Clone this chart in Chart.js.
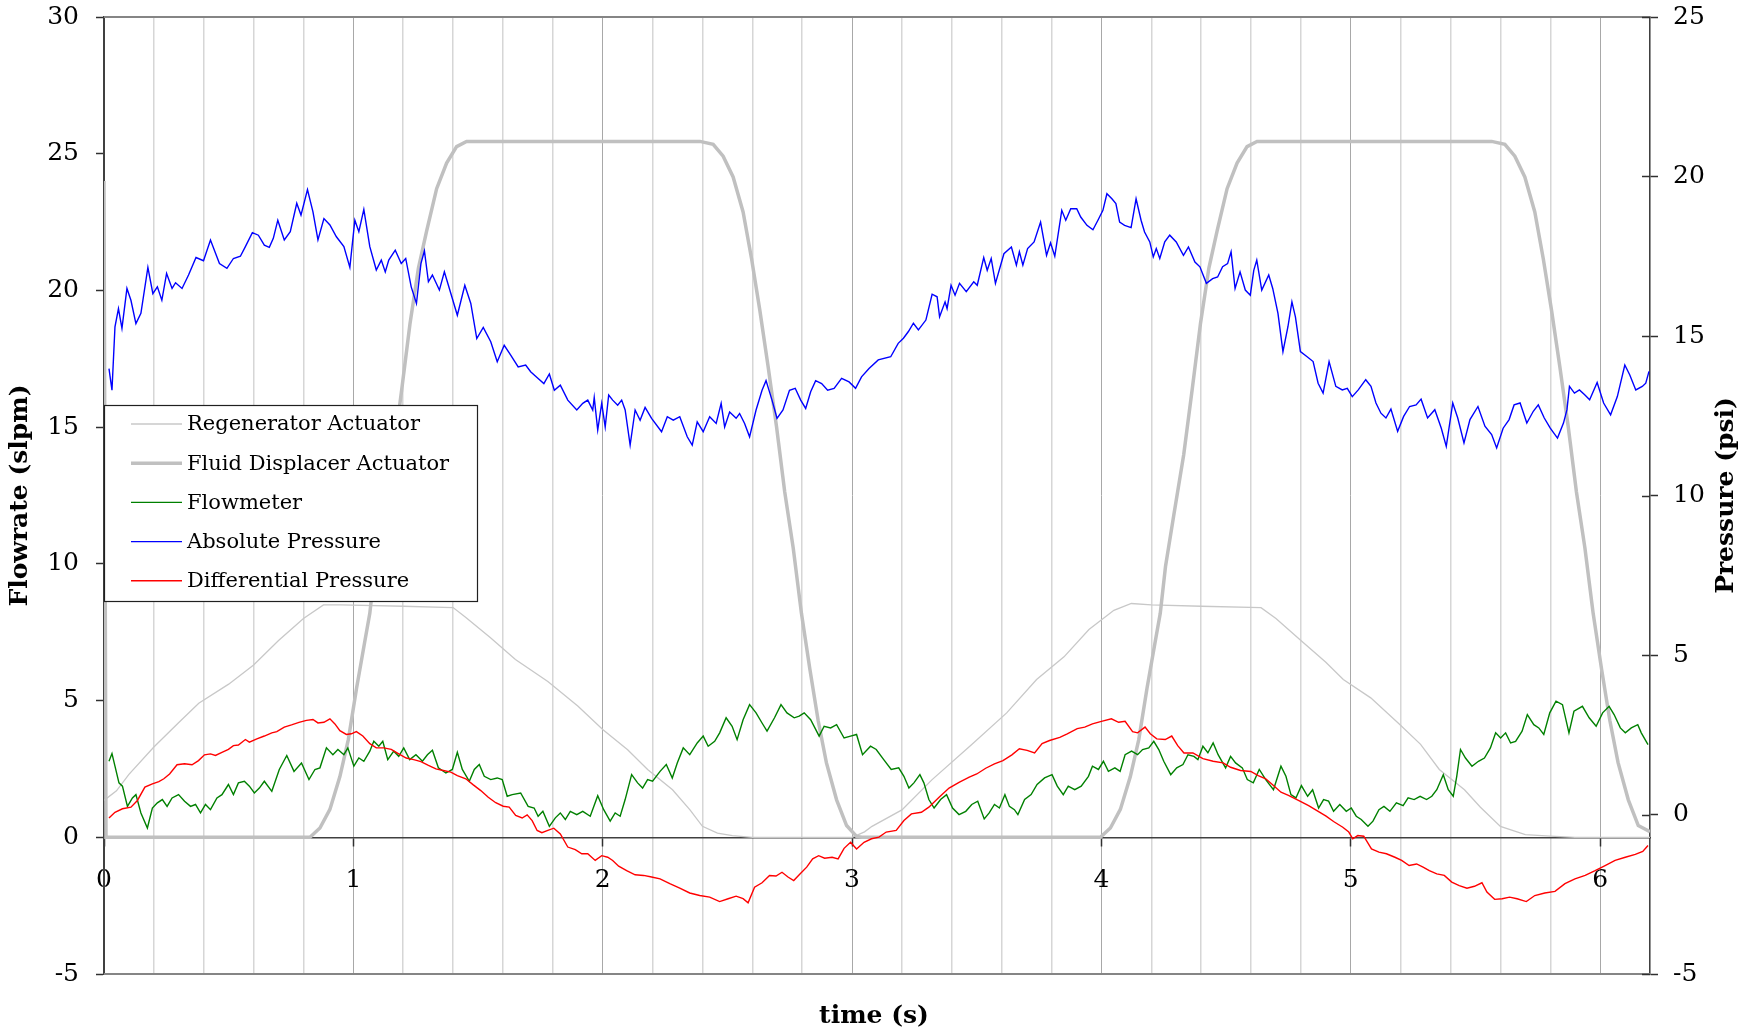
<!DOCTYPE html>
<html><head><meta charset="utf-8">
<script src="https://cdn.jsdelivr.net/npm/chart.js@4.4.1/dist/chart.umd.min.js"></script>
<style>html,body{margin:0;padding:0;background:#fff;}canvas{display:block;}</style>
</head><body>
<canvas id="c" width="1748" height="1031"></canvas>
<script>
// ---------- DATA ----------
const seriesLabels = ['Regenerator Actuator','Fluid Displacer Actuator','Flowmeter','Absolute Pressure','Differential Pressure'];
const xTickLabels = ['0','1','2','3','4','5','6'];
const leftTicks = [-5,0,5,10,15,20,25,30];
const rightTicks = [-5,0,5,10,15,20,25];

const regenT = [0,0.05,0.1,0.2,0.3,0.38,0.5,0.6,0.7,0.8,0.88,0.95,1.2,1.4,1.45,1.55,1.65,1.78,1.9,2.0,2.1,2.18,2.28,2.35,2.40,2.46,2.52,2.6,3.0,3.05,3.08,3.2,3.32,3.48,3.62,3.74,3.85,3.95,4.05,4.12,4.2,4.4,4.64,4.7,4.8,4.9,4.97,5.08,5.19,5.28,5.355,5.456,5.52,5.6,5.7,5.8,5.9,6.2];
const regenV = [1.35,1.7,2.3,3.3,4.2,4.9,5.6,6.3,7.2,8.0,8.5,8.5,8.45,8.4,8.05,7.3,6.5,5.7,4.8,3.94,3.2,2.48,1.74,1.0,0.40,0.15,0.06,0,0,0.2,0.4,1.0,2.1,3.39,4.55,5.77,6.6,7.6,8.3,8.55,8.5,8.45,8.4,8.0,7.2,6.4,5.77,5.1,4.18,3.4,2.48,1.74,1.1,0.40,0.1,0.04,0,0];

const dispT = [0,0.008,0.826,0.866,0.906,0.946,0.980,1.013,1.046,1.066,1.087,1.120,1.160,1.194,1.227,1.261,1.294,1.334,1.374,1.414,1.454,2.390,2.443,2.483,2.523,2.563,2.597,2.630,2.663,2.697,2.730,2.764,2.797,2.831,2.864,2.897,2.938,2.978,3.018,3.04,3.996,4.036,4.076,4.116,4.150,4.183,4.216,4.236,4.257,4.290,4.330,4.364,4.397,4.431,4.464,4.504,4.544,4.584,4.624,5.565,5.618,5.658,5.698,5.738,5.772,5.805,5.838,5.872,5.905,5.939,5.972,6.006,6.039,6.072,6.113,6.153,6.2];
const dispV = [24.0,0,0,0.34,1.02,2.22,3.58,5.46,7.17,8.19,9.90,11.77,13.99,16.38,18.77,20.82,22.18,23.72,24.66,25.26,25.45,25.45,25.34,24.91,24.15,22.87,21.16,19.28,17.24,15.02,12.63,10.58,8.19,6.14,4.27,2.73,1.37,0.43,0.03,0,0,0.34,1.02,2.22,3.58,5.46,7.17,8.19,9.90,11.77,13.99,16.38,18.77,20.82,22.18,23.72,24.66,25.26,25.45,25.45,25.34,24.91,24.15,22.87,21.16,19.28,17.24,15.02,12.63,10.58,8.19,6.14,4.27,2.73,1.37,0.43,0.2];

const flowT = [0.020,0.032,0.044,0.060,0.074,0.094,0.114,0.128,0.148,0.174,0.194,0.214,0.234,0.253,0.273,0.299,0.323,0.347,0.367,0.387,0.407,0.427,0.453,0.473,0.499,0.519,0.539,0.563,0.583,0.603,0.623,0.643,0.673,0.703,0.733,0.762,0.792,0.822,0.846,0.866,0.892,0.918,0.938,0.962,0.978,1.002,1.022,1.042,1.066,1.082,1.102,1.118,1.138,1.162,1.182,1.202,1.226,1.251,1.277,1.297,1.317,1.341,1.371,1.397,1.417,1.437,1.465,1.485,1.505,1.525,1.551,1.577,1.597,1.617,1.637,1.671,1.701,1.725,1.741,1.760,1.786,1.810,1.830,1.850,1.870,1.896,1.920,1.950,1.980,2.004,2.030,2.050,2.070,2.090,2.116,2.140,2.160,2.180,2.200,2.230,2.255,2.279,2.299,2.323,2.349,2.379,2.403,2.423,2.449,2.469,2.495,2.519,2.539,2.563,2.589,2.615,2.639,2.659,2.689,2.715,2.739,2.768,2.788,2.808,2.834,2.868,2.888,2.914,2.938,2.968,2.994,3.018,3.042,3.074,3.097,3.127,3.157,3.187,3.208,3.228,3.248,3.272,3.288,3.308,3.329,3.355,3.379,3.403,3.429,3.456,3.480,3.504,3.530,3.550,3.571,3.591,3.613,3.631,3.651,3.665,3.692,3.718,3.742,3.772,3.802,3.823,3.847,3.867,3.893,3.919,3.948,3.964,3.988,4.008,4.028,4.054,4.075,4.095,4.121,4.145,4.165,4.190,4.210,4.230,4.250,4.278,4.302,4.327,4.347,4.371,4.387,4.407,4.427,4.448,4.468,4.498,4.518,4.538,4.565,4.585,4.609,4.633,4.659,4.690,4.720,4.740,4.760,4.780,4.802,4.827,4.847,4.871,4.891,4.911,4.931,4.956,4.982,5.002,5.022,5.042,5.069,5.089,5.113,5.133,5.157,5.183,5.210,5.230,5.254,5.278,5.304,5.325,5.345,5.371,5.391,5.411,5.425,5.440,5.460,5.486,5.512,5.536,5.560,5.581,5.601,5.621,5.641,5.661,5.687,5.708,5.734,5.754,5.774,5.798,5.823,5.849,5.875,5.895,5.929,5.956,5.984,6.010,6.036,6.056,6.081,6.101,6.125,6.151,6.165,6.192];
const flowV = [2.78,3.06,2.60,1.99,1.87,1.13,1.44,1.56,0.89,0.34,1.07,1.26,1.38,1.13,1.44,1.56,1.32,1.13,1.20,0.89,1.20,1.01,1.44,1.56,1.93,1.56,1.99,2.05,1.87,1.62,1.80,2.05,1.68,2.48,2.99,2.41,2.72,2.11,2.48,2.54,3.27,3.02,3.21,3.02,3.27,2.60,2.90,2.78,3.15,3.51,3.33,3.51,2.84,3.15,2.96,3.27,2.84,3.02,2.78,3.02,3.18,2.54,2.35,2.48,3.11,2.48,2.05,2.48,2.66,2.23,2.11,2.17,2.11,1.50,1.56,1.62,1.13,1.07,0.77,0.95,0.40,0.71,0.89,0.65,0.95,0.83,0.95,0.77,1.52,1.01,0.59,0.89,0.77,1.38,2.29,1.99,1.80,2.11,2.05,2.41,2.66,2.17,2.72,3.27,3.02,3.45,3.70,3.33,3.51,3.82,4.37,4.06,3.57,4.30,4.85,4.55,4.18,3.88,4.37,4.85,4.55,4.37,4.43,4.55,4.30,3.70,4.06,4.00,4.12,3.63,3.70,3.76,3.02,3.33,3.21,2.84,2.48,2.54,2.23,1.80,1.99,2.29,1.99,1.38,1.07,1.38,1.56,1.07,0.83,0.95,1.20,1.32,0.67,0.89,1.20,1.07,1.56,1.13,1.01,0.83,1.38,1.56,1.93,2.17,2.29,1.87,1.56,1.87,1.74,1.87,2.23,2.60,2.48,2.78,2.41,2.54,2.41,3.02,3.15,3.02,3.21,3.27,3.51,3.21,2.78,2.29,2.54,2.66,3.02,2.96,2.84,3.33,3.09,3.45,3.02,2.54,2.96,2.72,2.54,2.11,1.99,2.48,2.11,1.74,2.60,2.23,1.56,1.44,1.89,1.50,1.74,1.07,1.38,1.32,0.95,1.20,0.95,1.07,0.77,0.65,0.40,0.59,1.01,1.13,0.95,1.26,1.16,1.44,1.38,1.50,1.38,1.50,1.74,2.29,1.74,1.50,2.23,3.21,2.90,2.60,2.78,2.90,3.27,3.82,3.63,3.82,3.45,3.51,3.88,4.49,4.12,4.00,3.76,4.55,4.98,4.85,3.82,4.61,4.79,4.37,4.06,4.55,4.79,4.49,4.00,3.82,4.00,4.12,3.82,3.39];

const absT = [0.020,0.032,0.044,0.058,0.072,0.092,0.108,0.128,0.148,0.176,0.196,0.214,0.232,0.251,0.273,0.287,0.313,0.339,0.369,0.399,0.427,0.463,0.493,0.519,0.547,0.567,0.595,0.619,0.643,0.663,0.679,0.697,0.723,0.747,0.773,0.790,0.816,0.838,0.858,0.882,0.906,0.932,0.962,0.986,1.006,1.022,1.042,1.066,1.092,1.112,1.128,1.142,1.168,1.192,1.210,1.232,1.253,1.271,1.285,1.301,1.317,1.345,1.365,1.385,1.417,1.447,1.471,1.495,1.521,1.551,1.577,1.605,1.631,1.661,1.691,1.711,1.741,1.764,1.786,1.806,1.830,1.860,1.896,1.920,1.940,1.960,1.966,1.980,1.996,2.010,2.024,2.040,2.060,2.076,2.090,2.110,2.130,2.150,2.170,2.196,2.236,2.259,2.283,2.309,2.339,2.359,2.379,2.403,2.429,2.455,2.475,2.489,2.509,2.535,2.549,2.569,2.589,2.615,2.639,2.655,2.679,2.699,2.723,2.749,2.772,2.794,2.814,2.834,2.854,2.878,2.902,2.928,2.958,2.988,3.014,3.038,3.068,3.105,3.155,3.185,3.206,3.226,3.246,3.266,3.296,3.321,3.341,3.351,3.373,3.381,3.397,3.413,3.431,3.458,3.488,3.502,3.528,3.542,3.558,3.575,3.609,3.639,3.659,3.671,3.685,3.704,3.730,3.756,3.780,3.796,3.813,3.841,3.857,3.877,3.901,3.917,3.942,3.966,3.986,4.006,4.022,4.042,4.058,4.073,4.093,4.119,4.139,4.159,4.173,4.194,4.208,4.220,4.234,4.254,4.274,4.300,4.329,4.349,4.375,4.395,4.421,4.446,4.466,4.486,4.506,4.520,4.536,4.556,4.577,4.597,4.611,4.623,4.643,4.671,4.687,4.708,4.728,4.748,4.764,4.778,4.798,4.825,4.849,4.869,4.889,4.913,4.940,4.966,4.986,5.006,5.030,5.060,5.081,5.101,5.121,5.141,5.161,5.188,5.212,5.236,5.262,5.282,5.308,5.337,5.363,5.383,5.409,5.429,5.454,5.478,5.510,5.538,5.565,5.585,5.611,5.635,5.655,5.679,5.706,5.732,5.752,5.776,5.800,5.829,5.853,5.867,5.877,5.897,5.917,5.938,5.958,5.988,6.014,6.042,6.069,6.099,6.119,6.143,6.169,6.183,6.196];
const absV = [13.98,13.30,15.29,15.86,15.24,16.49,16.12,15.39,15.71,17.15,16.33,16.54,16.12,16.96,16.49,16.67,16.49,16.91,17.46,17.36,18.01,17.27,17.12,17.43,17.50,17.80,18.24,18.16,17.85,17.78,18.06,18.63,18.01,18.27,19.16,18.79,19.59,18.89,18.01,18.68,18.48,18.11,17.80,17.15,18.63,18.27,18.97,17.80,17.07,17.38,17.01,17.38,17.69,17.27,17.43,16.54,16.02,17.27,17.67,16.70,16.91,16.44,17.01,16.49,15.65,16.59,16.02,14.92,15.27,14.82,14.19,14.71,14.40,14.03,14.09,13.88,13.67,13.51,13.81,13.30,13.46,12.99,12.68,12.89,12.99,12.68,13.07,12.05,12.89,12.15,13.15,12.99,12.83,12.99,12.68,11.58,12.68,12.36,12.76,12.42,12.00,12.47,12.36,12.47,11.84,11.58,12.31,12.00,12.47,12.26,12.89,12.15,12.62,12.42,12.57,12.26,11.84,12.68,13.30,13.60,12.99,12.42,12.68,13.30,13.36,12.99,12.73,13.25,13.60,13.51,13.30,13.36,13.67,13.56,13.36,13.72,13.98,14.25,14.35,14.77,14.93,15.14,15.40,15.19,15.50,16.31,16.23,15.60,16.07,15.86,16.59,16.28,16.65,16.39,16.70,16.59,17.46,17.06,17.43,16.65,17.58,17.79,17.22,17.64,17.22,17.74,17.95,18.57,17.53,17.92,17.50,18.94,18.63,18.99,18.99,18.73,18.47,18.33,18.63,18.94,19.46,19.30,19.15,18.57,18.47,18.40,19.30,18.63,18.26,17.95,17.48,17.74,17.43,17.95,18.16,17.95,17.53,17.79,17.32,17.17,16.65,16.80,16.85,17.17,17.27,17.64,16.49,17.01,16.44,16.28,17.06,17.38,16.44,16.91,16.49,15.71,14.51,15.29,16.07,15.60,14.51,14.35,14.20,13.52,13.21,14.20,13.42,13.31,13.36,13.10,13.31,13.63,13.42,12.90,12.58,12.43,12.71,12.01,12.48,12.79,12.84,13.02,12.43,12.69,12.11,11.54,12.90,12.43,11.65,12.38,12.79,12.17,11.91,11.49,12.11,12.38,12.84,12.90,12.27,12.64,12.84,12.43,12.11,11.80,12.27,12.69,13.42,13.21,13.31,13.16,13.00,13.54,12.90,12.53,13.10,14.09,13.78,13.31,13.42,13.52,13.89];

const diffT = [0.020,0.044,0.074,0.108,0.134,0.164,0.194,0.220,0.240,0.263,0.293,0.323,0.353,0.379,0.403,0.427,0.447,0.473,0.499,0.519,0.539,0.567,0.583,0.613,0.643,0.673,0.693,0.723,0.752,0.782,0.812,0.838,0.858,0.882,0.906,0.926,0.946,0.972,0.992,1.012,1.038,1.066,1.092,1.122,1.152,1.182,1.212,1.242,1.271,1.301,1.331,1.361,1.391,1.417,1.451,1.481,1.511,1.541,1.571,1.601,1.625,1.651,1.677,1.697,1.717,1.737,1.756,1.780,1.804,1.830,1.860,1.890,1.916,1.940,1.970,1.996,2.020,2.040,2.064,2.096,2.130,2.164,2.196,2.230,2.269,2.309,2.349,2.389,2.429,2.469,2.503,2.535,2.563,2.583,2.609,2.639,2.669,2.695,2.719,2.743,2.766,2.792,2.818,2.842,2.866,2.890,2.920,2.944,2.968,2.994,3.018,3.048,3.078,3.108,3.137,3.177,3.208,3.238,3.278,3.308,3.349,3.389,3.429,3.470,3.500,3.536,3.571,3.605,3.641,3.671,3.702,3.732,3.762,3.792,3.833,3.863,3.903,3.933,3.964,4.000,4.040,4.069,4.095,4.125,4.145,4.175,4.196,4.222,4.256,4.282,4.306,4.331,4.367,4.407,4.448,4.488,4.518,4.558,4.599,4.629,4.659,4.690,4.720,4.750,4.790,4.831,4.871,4.901,4.931,4.968,4.992,5.008,5.028,5.052,5.083,5.113,5.143,5.177,5.204,5.234,5.264,5.290,5.315,5.345,5.375,5.405,5.435,5.466,5.496,5.526,5.546,5.577,5.607,5.637,5.667,5.704,5.738,5.778,5.819,5.859,5.899,5.940,5.980,6.020,6.060,6.101,6.141,6.171,6.192];
const diffV = [-0.11,0.07,0.18,0.23,0.44,0.86,0.96,1.03,1.12,1.27,1.56,1.59,1.56,1.69,1.87,1.90,1.85,1.95,2.04,2.16,2.18,2.35,2.27,2.37,2.46,2.56,2.60,2.74,2.81,2.89,2.95,2.98,2.87,2.89,3.00,2.84,2.63,2.51,2.53,2.60,2.46,2.22,2.09,2.09,2.04,1.90,1.77,1.72,1.66,1.54,1.43,1.38,1.33,1.22,1.12,0.93,0.75,0.54,0.37,0.26,0.23,-0.03,-0.11,-0.01,-0.19,-0.50,-0.57,-0.50,-0.43,-0.61,-1.02,-1.10,-1.23,-1.23,-1.44,-1.29,-1.34,-1.44,-1.62,-1.76,-1.89,-1.91,-1.96,-2.02,-2.17,-2.31,-2.46,-2.54,-2.59,-2.73,-2.64,-2.56,-2.64,-2.77,-2.28,-2.14,-1.91,-1.93,-1.81,-1.96,-2.07,-1.86,-1.65,-1.39,-1.29,-1.37,-1.34,-1.39,-1.06,-0.87,-1.08,-0.87,-0.76,-0.71,-0.55,-0.50,-0.19,0.02,0.07,0.23,0.54,0.83,1.01,1.17,1.27,1.45,1.59,1.69,1.87,2.06,2.01,1.93,2.22,2.32,2.42,2.53,2.69,2.74,2.84,2.92,3.00,2.89,2.92,2.60,2.56,2.74,2.53,2.37,2.35,2.46,2.16,1.93,1.93,1.75,1.67,1.62,1.48,1.38,1.35,1.22,1.12,0.91,0.70,0.60,0.44,0.28,0.09,-0.05,-0.22,-0.40,-0.55,-0.76,-0.66,-0.68,-1.08,-1.18,-1.23,-1.34,-1.44,-1.60,-1.55,-1.65,-1.76,-1.86,-1.91,-2.12,-2.23,-2.31,-2.25,-2.14,-2.43,-2.66,-2.64,-2.59,-2.64,-2.73,-2.54,-2.46,-2.41,-2.17,-2.02,-1.91,-1.76,-1.60,-1.44,-1.34,-1.25,-1.16,-0.97];

// ---------- CHART ----------
const FONT = 'DejaVu Serif';
const pts = (T, V) => T.map((t, i) => ({x: t, y: V[i]}));
const isInt = v => Math.abs(v - Math.round(v)) < 1e-6;

const seriesStyle = [
  {color:'#c8c8c8', width:1.3, axis:'y'},
  {color:'#c0c0c0', width:3.5, axis:'y'},
  {color:'#008000', width:1.4, axis:'y'},
  {color:'#0000ff', width:1.4, axis:'y2'},
  {color:'#ff0000', width:1.4, axis:'y2'}
];
const seriesData = [pts(regenT, regenV), pts(dispT, dispV), pts(flowT, flowV), pts(absT, absV), pts(diffT, diffV)];

const framePlugin = {
  id: 'frame',
  afterDraw(chart) {
    const {ctx, chartArea: a, scales} = chart;
    ctx.save();
    ctx.strokeStyle = '#858585'; ctx.lineWidth = 2;
    ctx.beginPath();
    ctx.moveTo(a.left, a.top); ctx.lineTo(a.right, a.top);
    ctx.moveTo(a.left, a.bottom); ctx.lineTo(a.right, a.bottom);
    ctx.stroke();
    ctx.strokeStyle = '#303030'; ctx.lineWidth = 1.5;
    scales.y2.ticks.forEach(t => {
      const py = Math.round(scales.y2.getPixelForValue(t.value)) + 0.5;
      ctx.beginPath(); ctx.moveTo(a.right - 8, py); ctx.lineTo(a.right, py); ctx.stroke();
    });
    ctx.fillStyle = '#000';
    ctx.font = 'bold 25px "' + FONT + '"';
    ctx.textAlign = 'center'; ctx.textBaseline = 'middle';
    ctx.translate(chart.width - 22, (a.top + a.bottom) / 2);
    ctx.rotate(-Math.PI / 2);
    ctx.fillText('Pressure (psi)', 0, 0);
    ctx.restore();

    ctx.save();
    const lx = a.left, ly = a.top + 388, lw = 373, lh = 196;
    ctx.fillStyle = '#fff';
    ctx.fillRect(lx, ly, lw, lh);
    ctx.strokeStyle = '#202020'; ctx.lineWidth = 1.2;
    ctx.strokeRect(lx + 0.5, ly + 0.5, lw, lh);
    ctx.font = '21px "' + FONT + '"';
    ctx.textAlign = 'left'; ctx.textBaseline = 'middle';
    chart.data.datasets.forEach((ds, i) => {
      const cy = ly + 19 + i * 39.2;
      ctx.strokeStyle = ds.borderColor; ctx.lineWidth = ds.borderWidth;
      ctx.beginPath(); ctx.moveTo(lx + 27, cy); ctx.lineTo(lx + 78, cy); ctx.stroke();
      ctx.fillStyle = '#000';
      ctx.fillText(ds.label, lx + 83, cy + 1);
    });
    ctx.restore();
  }
};

new Chart(document.getElementById('c'), {
  type: 'line',
  data: {
    datasets: seriesLabels.map((lab, i) => ({
      label: lab,
      data: seriesData[i],
      yAxisID: seriesStyle[i].axis,
      borderColor: seriesStyle[i].color,
      borderWidth: seriesStyle[i].width,
      pointRadius: 0,
      tension: 0,
      fill: false,
      order: 5 - i
    }))
  },
  options: {
    responsive: false,
    animation: false,
    devicePixelRatio: 1,
    layout: {padding: {top: 17, left: 0, right: 0, bottom: 0}},
    plugins: {
      legend: {display: false},
      tooltip: {enabled: false},
      title: {
        display: true, position: 'bottom', text: 'time (s)', color: '#000',
        font: {family: FONT, size: 25, weight: 'bold'},
        padding: {top: 27, bottom: 0}
      }
    },
    scales: {
      x: {
        type: 'linear', min: 0, max: 6.2, position: {y: 0},
        ticks: {
          stepSize: 0.2, autoSkip: false, maxRotation: 0, minRotation: 0,
          color: '#000', font: {family: FONT, size: 25}, padding: 20,
          callback: v => isInt(v) ? xTickLabels[Math.round(v)] : ''
        },
        grid: {
          drawTicks: true, tickLength: 8,
          color: c => isInt(c.tick.value) ? '#a8a8a8' : '#d6d6d6',
          lineWidth: c => isInt(c.tick.value) ? 1 : 1.5,
          tickColor: c => isInt(c.tick.value) ? '#303030' : 'rgba(0,0,0,0)',
          tickWidth: 1.5
        },
        border: {color: '#404040', width: 1.5}
      },
      y: {
        position: 'left', min: leftTicks[0], max: leftTicks[leftTicks.length - 1],
        ticks: {stepSize: 5, color: '#000', font: {family: FONT, size: 25}, padding: 17},
        grid: {drawOnChartArea: false, drawTicks: true, tickLength: 8, tickColor: '#303030', tickWidth: 1.5},
        border: {color: '#404040', width: 2},
        title: {display: true, text: 'Flowrate (slpm)', color: '#000', font: {family: FONT, size: 25, weight: 'bold'}, padding: {top: 5, bottom: 0}},
        afterFit: s => { s.width = 104; s.paddingTop = 0; s.paddingBottom = 0; }
      },
      y2: {
        position: 'right', min: rightTicks[0], max: rightTicks[rightTicks.length - 1],
        ticks: {stepSize: 5, color: '#000', font: {family: FONT, size: 25}, padding: 15},
        grid: {drawOnChartArea: false, drawTicks: true, tickLength: 8, tickColor: '#303030', tickWidth: 1.5},
        border: {color: '#404040', width: 1.5},
        afterFit: s => { s.width = 98; s.paddingTop = 0; s.paddingBottom = 0; }
      }
    }
  },
  plugins: [framePlugin]
});
</script>
</body></html>
